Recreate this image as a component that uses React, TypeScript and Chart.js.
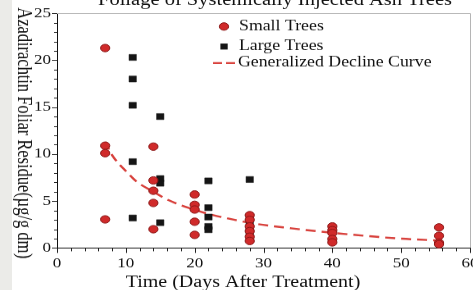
import React, { useEffect, useRef } from "react";
import { Chart, registerables } from "chart.js";
Chart.register(...registerables);

// ---- data ----
const chartTitle = "Foliage of Systemically Injected Ash Trees";
const xAxisTitle = "Time (Days After Treatment)";
const yAxisTitle = "Azadirachtin Foliar Residue(µg/g dm)";
const legendLabels = ["Small Trees", "Large Trees", "Generalized Decline Curve"];

const smallDays = [7, 7, 7, 7, 14, 14, 14, 14, 14, 20, 20, 20, 20, 20, 28, 28, 28, 28, 28, 28, 40, 40, 40, 40, 40, 55.5, 55.5, 55.5, 55.5];
const smallValues = [21.3, 10.9, 10.1, 3.05, 10.8, 7.2, 6.1, 4.8, 2.0, 5.7, 4.6, 4.1, 2.8, 1.4, 3.5, 3.0, 2.3, 1.8, 1.2, 0.75, 2.3, 1.9, 1.6, 0.96, 0.6, 2.2, 1.3, 0.56, 0.4];

const largeDays = [11, 11, 11, 11, 11, 15, 15, 15, 15, 22, 22, 22, 22, 22, 28, 28, 28, 28, 28];
const largeValues = [20.3, 18.0, 15.2, 9.2, 3.2, 14.0, 7.4, 6.9, 2.7, 7.15, 4.3, 3.3, 2.3, 1.95, 7.3, 3.3, 2.7, 2.0, 1.4];

const curveDays = [7, 8, 10.4, 11.6, 14, 16.2, 20.3, 22.2, 28.3, 34, 40.3, 50, 55.5];
const curveValues = [11.3, 9.9, 7.9, 7.05, 6.0, 5.1, 4.0, 3.6, 2.65, 2.1, 1.6, 1.0, 0.8];

const xMin = 0, xMax = 60, xMajor = 10, xMinor = 2;
const yMin = 0, yMax = 25, yMajor = 5, yMinor = 1;

// ---- styling / layout ----
const S = 0.82; // vertical squash of the reference
const W = 500;
const H = Math.round(290 / S);
const FONT = '"Liberation Serif", "Times New Roman", Times, serif';
const RED = "#d02a2a";
const RED_EDGE = "#8a1616";
const BLACK = "#151515";
const LINE_RED = "#d8403b";

const AREA_LEFT = 57;
const AREA_RIGHT = 470;
const AREA_TOP = 12.7 / S;
const AREA_BOTTOM = 248 / S;

const zip = (xs: number[], ys: number[]) => xs.map((x, i) => ({ x, y: ys[i] }));

const decoPlugin = {
  id: "deco",
  beforeDraw(chart: any) {
    const { ctx, width, height } = chart;
    ctx.save();
    ctx.fillStyle = "#ffffff";
    ctx.fillRect(0, 0, width, height);
    ctx.fillStyle = "#ebebe8";
    ctx.fillRect(0, 0, 12, height);
    ctx.restore();
  },
  afterDraw(chart: any) {
    const { ctx, chartArea } = chart;
    const xs = chart.scales.x;
    const ys = chart.scales.y;
    ctx.save();
    // frame top / right
    ctx.strokeStyle = "#b5b5b5";
    ctx.lineWidth = 1;
    ctx.beginPath();
    ctx.moveTo(chartArea.left, Math.round(chartArea.top) + 0.5);
    ctx.lineTo(Math.round(chartArea.right) + 0.5, Math.round(chartArea.top) + 0.5);
    ctx.lineTo(Math.round(chartArea.right) + 0.5, chartArea.bottom);
    ctx.stroke();

    // tick marks
    ctx.strokeStyle = "#222";
    ctx.lineWidth = 1;
    ctx.beginPath();
    for (let v = yMin; v <= yMax + 1e-9; v += yMinor) {
      const py = Math.round(ys.getPixelForValue(v)) + 0.5;
      const len = Math.abs(v % yMajor) < 1e-6 ? 5 : 3;
      ctx.moveTo(chartArea.left, py);
      ctx.lineTo(chartArea.left - len, py);
    }
    for (let v = xMin; v <= xMax + 1e-9; v += xMinor) {
      const px = Math.round(xs.getPixelForValue(v)) + 0.5;
      const len = Math.abs(v % xMajor) < 1e-6 ? 6 : 4;
      ctx.moveTo(px, chartArea.bottom);
      ctx.lineTo(px, chartArea.bottom + len);
    }
    ctx.stroke();

    ctx.fillStyle = "#111";
    // title (mostly cut off at top)
    ctx.font = `20.5px ${FONT}`;
    ctx.textAlign = "center";
    ctx.textBaseline = "alphabetic";
    ctx.fillText(chartTitle, 275, 5 / S);

    // x axis title
    ctx.font = `20px ${FONT}`;
    ctx.fillText(xAxisTitle, 243, 287 / S);

    // y axis title, rotated clockwise
    ctx.save();
    ctx.translate(23, 133 / S);
    ctx.rotate(Math.PI / 2);
    ctx.textBaseline = "middle";
    ctx.fillText(yAxisTitle, 0, 0);
    ctx.restore();

    // legend
    ctx.font = `17.8px ${FONT}`;
    ctx.textAlign = "left";
    ctx.textBaseline = "middle";
    const r1 = 26.5 / S, r2 = 46.5 / S, r3 = 63 / S;
    ctx.beginPath();
    ctx.arc(224, r1, 4.6, 0, Math.PI * 2);
    ctx.fillStyle = RED;
    ctx.fill();
    ctx.strokeStyle = RED_EDGE;
    ctx.stroke();
    ctx.fillStyle = BLACK;
    ctx.fillRect(220.4, r2 - 3.65, 7.3, 7.3);
    ctx.strokeStyle = LINE_RED;
    ctx.lineWidth = 2.2;
    ctx.beginPath();
    ctx.moveTo(213, r3);
    ctx.lineTo(222, r3);
    ctx.moveTo(226, r3);
    ctx.lineTo(235, r3);
    ctx.stroke();
    ctx.fillStyle = "#111";
    ctx.fillText(legendLabels[0], 239, r1);
    ctx.fillText(legendLabels[1], 239, r2);
    ctx.fillText(legendLabels[2], 238, r3);
    ctx.restore();
  },
};

export default function App() {
  const ref = useRef<HTMLCanvasElement | null>(null);
  useEffect(() => {
    if (!ref.current) return;
    const chart = new Chart(ref.current, {
      type: "scatter",
      data: {
        datasets: [
          {
            label: legendLabels[0],
            data: zip(smallDays, smallValues),
            pointStyle: "circle",
            pointRadius: 4.6,
            backgroundColor: RED,
            borderColor: RED_EDGE,
            borderWidth: 1,
            order: 0,
            clip: false as any,
          },
          {
            label: legendLabels[1],
            data: zip(largeDays, largeValues),
            pointStyle: "rect",
            pointRadius: 5.2,
            backgroundColor: BLACK,
            borderColor: BLACK,
            borderWidth: 0.5,
            order: 1,
            clip: false as any,
          },
          {
            label: legendLabels[2],
            data: zip(curveDays, curveValues),
            showLine: true,
            pointRadius: 0,
            borderColor: LINE_RED,
            borderWidth: 2.4,
            borderDash: [10, 6],
            cubicInterpolationMode: "monotone",
            fill: false,
            order: 2,
            clip: false as any,
          } as any,
        ],
      },
      options: {
        responsive: false,
        animation: false,
        devicePixelRatio: 1,
        layout: { padding: { left: 0, right: W - AREA_RIGHT, top: AREA_TOP, bottom: 0 } },
        plugins: { legend: { display: false }, tooltip: { enabled: false }, title: { display: false } },
        scales: {
          x: {
            type: "linear",
            min: xMin,
            max: xMax,
            grid: { display: false, drawTicks: false },
            border: { display: true, color: "#111", width: 1 },
            ticks: {
              stepSize: xMajor,
              autoSkip: false,
              maxRotation: 0,
              padding: 9,
              color: "#111",
              font: { family: FONT, size: 17 },
            },
            afterFit: (s: any) => {
              s.height = H - AREA_BOTTOM;
            },
          },
          y: {
            type: "linear",
            min: yMin,
            max: yMax,
            grid: { display: false, drawTicks: false },
            border: { display: true, color: "#111", width: 1 },
            ticks: {
              stepSize: yMajor,
              autoSkip: false,
              padding: 6,
              color: "#111",
              font: { family: FONT, size: 17 },
            },
            afterFit: (s: any) => {
              s.width = AREA_LEFT;
            },
          },
        },
      },
      plugins: [decoPlugin],
    });
    return () => chart.destroy();
  }, []);

  return (
    <div
      style={{
        position: "fixed",
        left: 0,
        top: 0,
        width: 473,
        height: 290,
        overflow: "hidden",
        background: "#fff",
      }}
    >
      <div style={{ transform: `scaleY(${S})`, transformOrigin: "0 0", width: W, height: H }}>
        <canvas ref={ref} width={W} height={H} style={{ display: "block", width: W, height: H }} />
      </div>
    </div>
  );
}
